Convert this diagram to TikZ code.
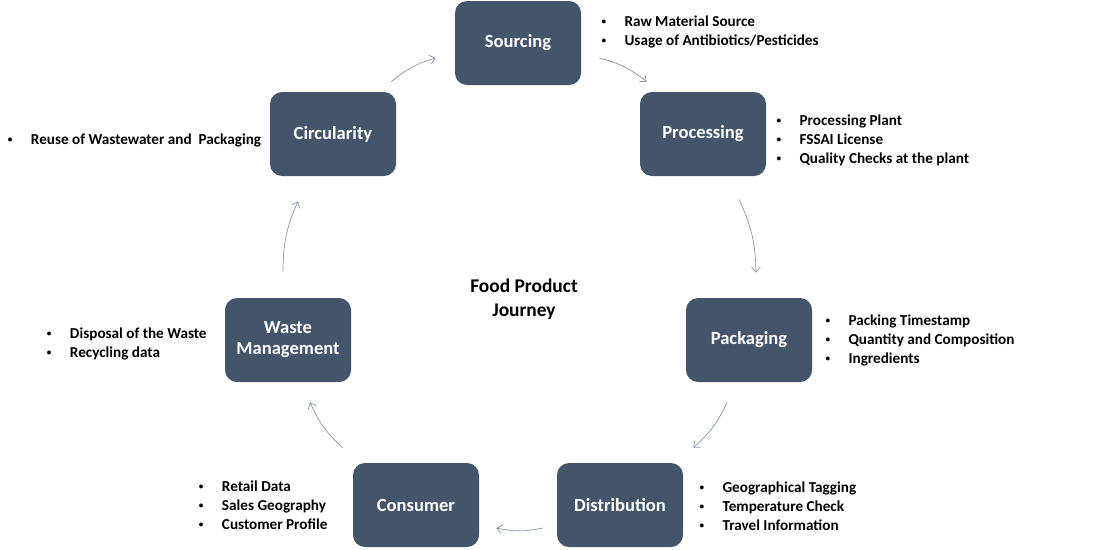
\documentclass[tikz,border=0pt]{standalone}
\usepackage{fontspec}
\setmainfont{Carlito}
\usetikzlibrary{positioning,arrows.meta,calc}
\definecolor{stageblue}{HTML}{44546A}
\definecolor{flowgray}{HTML}{8494AE}
\newcommand{\bl}{\makebox[5.75mm][l]{\raisebox{0.2ex}{\fontsize{6.5}{6.5}\selectfont\textbullet}}}

\begin{document}
\begin{tikzpicture}[
  x=0.25mm, y=-0.25mm,
  stage/.style={fill=stageblue, rounded corners=3mm, text=white, align=center, minimum width=31.5mm, minimum height=21mm, font=\fontsize{13.2}{15}\selectfont\bfseries},
  points/.style={anchor=west, align=left, inner sep=0pt, font=\fontsize{10.8}{13.5}\selectfont\bfseries},
  heading/.style={align=center, font=\fontsize{13.8}{17}\selectfont\bfseries},
  arr/.style={-{Straight Barb[length=1.3mm, width=2.2mm]}, flowgray, line width=0.5pt, bend left=12}
]
\useasboundingbox (0,0) rectangle (1111,549);

% ---- stages ----
\node[stage] (sourcing) at (518,43) {Sourcing};
\node[stage] (processing) at (703,134) {Processing};
\node[stage] (packaging) at (749,340) {Packaging};
\node[stage] (distribution) at (620,505) {Distribution};
\node[stage] (consumer) at (416,505) {Consumer};
\node[stage] (waste) at (288,340) {Waste\\Management};
\node[stage] (circularity) at (333,134) {Circularity};

\node[heading] (journey) at (524,299) {Food Product\\Journey};

% ---- bullet points ----
\node[points] (sourcingpts) at ($(sourcing.east)+(20,-11.5)$)
  {\bl Raw Material Source\\\bl Usage of Antibiotics/Pesticides};
\node[points] (processingpts) at ($(processing.east)+(10,6)$)
  {\bl Processing Plant\\\bl FSSAI License\\\bl Quality Checks at the plant};
\node[points] (packagingpts) at ($(packaging.east)+(13,0)$)
  {\bl Packing Timestamp\\\bl Quantity and Composition\\\bl Ingredients};
\node[points] (distributionpts) at ($(distribution.east)+(16,1)$)
  {\bl Geographical Tagging\\\bl Temperature Check\\\bl Travel Information};
\node[points] (consumerpts) at ($(consumer.west)+(-154,0)$)
  {\bl Retail Data\\\bl Sales Geography\\\bl Customer Profile};
\node[points] (wastepts) at ($(waste.west)+(-178,3.5)$)
  {\bl Disposal of the Waste\\\bl Recycling data};
\node[points] (circularitypts) at ($(circularity.west)+(-262,6)$)
  {\bl Reuse of Wastewater and\ \ Packaging};

% ---- arrows ----
\draw[arr] ($(circularity.north east)+(-5,-10)$) to ($(sourcing.west)+(-19,15)$);
\draw[arr] ($(sourcing.east)+(18,15)$) to ($(processing.north west)+(7,-10)$);
\draw[arr] ($(processing.south)+(36,23)$) to ($(packaging.north)+(7,-25)$);
\draw[arr] ($(packaging.south)+(-22,20)$) to ($(distribution.north east)+(10,-15)$);
\draw[arr] ($(distribution.west)+(-14,23)$) to ($(consumer.east)+(17,23)$);
\draw[arr] ($(consumer.north west)+(-10,-15)$) to ($(waste.south)+(22,20)$);
\draw[arr] ($(waste.north)+(-5,-26)$) to ($(circularity.south)+(-35,25)$);
\end{tikzpicture}
\end{document}
